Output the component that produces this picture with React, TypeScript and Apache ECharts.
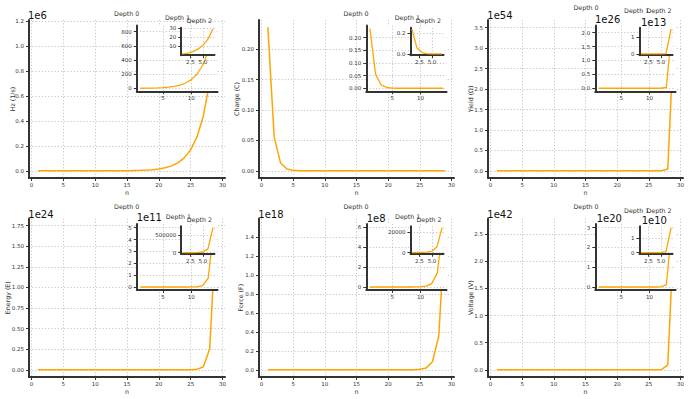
import React, { useEffect, useRef } from 'react';
import * as echarts from 'echarts';

// ---------------- data ----------------
const nValues = [1, 2, 3, 4, 5, 6, 7, 8, 9, 10, 11, 12, 13, 14, 15, 16, 17, 18, 19, 20, 21, 22, 23, 24, 25, 26, 27, 28, 29];

const hzValues = [1.618, 2.618, 4.236, 6.854, 11.09, 17.944, 29.034, 46.979, 76.013, 122.99, 199.0, 322.0, 521.0, 843.0, 1364, 2207, 3571, 5778, 9349, 15127, 24476, 39603, 64079, 103682, 167761, 271443, 439204, 710647, 1149851];

const chargeValues = [0.236068, 0.0557281, 0.0131556, 0.00310562, 0.000733137, 0.00017307, 4.0856e-5, 9.645e-6, 2.277e-6, 5.375e-7, 1.2689e-7, 2.9955e-8, 7.0714e-9, 1.6693e-9, 3.9407e-10, 9.3027e-11, 2.1961e-11, 5.1843e-12, 1.2238e-12, 2.8891e-13, 6.8202e-14, 1.61e-14, 3.8008e-15, 8.9724e-16, 2.1181e-16, 5.0e-17, 1.1804e-17, 2.7865e-18, 6.578e-19];

const yieldValues = [76.013, 5778.0, 439204, 3.3385e7, 2.53771e9, 1.92899e11, 1.46629e13, 1.11457e15, 8.4722e16, 6.43998e18, 4.89523e20, 3.72102e22, 2.82847e24, 2.15001e26, 1.63429e28, 1.24228e30, 9.44296e31, 7.1779e33, 5.45615e35, 4.14739e37, 3.15256e39, 2.39636e41, 1.82155e43, 1.38462e45, 1.05249e47, 8.00031e48, 6.08129e50, 4.62258e52, 3.51377e54];

const energyValues = [6.8541, 46.979, 321.997, 2207.0, 15127, 103682, 710647, 4870847, 33385282, 228826127, 1568397607, 10749957122, 7.36813e10, 5.0502e11, 3.46146e12, 2.37253e13, 1.62616e14, 1.11458e15, 7.63943e15, 5.23614e16, 3.5889e17, 2.45987e18, 1.68602e19, 1.15561e20, 7.92069e20, 5.42892e21, 3.72104e22, 2.55043e23, 1.74809e24];

const forceValues = [4.23607, 17.9443, 76.0132, 321.997, 1364.0, 5778.0, 24476, 103682, 439204, 1860498, 7881196, 33385282, 141422324, 599074578, 2537720636, 1.074996e10, 4.553755e10, 1.929e11, 8.17138e11, 3.46145e12, 1.46629e13, 6.21131e13, 2.63115e14, 1.11458e15, 4.72144e15, 2.00003e16, 8.4722e16, 3.5889e17, 1.52028e18];

const voltageValues = [29.0344, 842.999, 24476, 710647, 20633239, 599074578, 1.73938e10, 5.0502e11, 1.46629e13, 4.25729e14, 1.23608e16, 3.5889e17, 1.04202e19, 3.02545e20, 8.78423e21, 2.55045e23, 7.40506e24, 2.15001e26, 6.24243e27, 1.81245e29, 5.26235e30, 1.5279e32, 4.43617e33, 1.28802e35, 3.7397e36, 1.0858e38, 3.15256e39, 9.15328e40, 2.65761e42];

// points shown at each depth (depth 0, 1, 2)
const depthCounts = [29, 14, 7];

// x tick labels per depth
const mainXTicks = [0, 5, 10, 15, 20, 25, 30];
const depth1XTicks = [5, 10];
const depth2XTicks = [2.5, 5.0];

// y tick labels (in units of the offset shown above the axis)
const hzMainYTicks = [0, 0.2, 0.4, 0.6, 0.8, 1.0, 1.2];
const hzDepth1YTicks = [0, 200, 400, 600, 800];
const hzDepth2YTicks = [10, 20, 30];
const chargeMainYTicks = [0, 0.05, 0.1, 0.15, 0.2];
const chargeDepth1YTicks = [0, 0.05, 0.1, 0.15, 0.2];
const chargeDepth2YTicks = [0, 0.2];
const yieldMainYTicks = [0, 0.5, 1, 1.5, 2, 2.5, 3, 3.5];
const yieldDepth1YTicks = [0, 0.5, 1, 1.5, 2];
const yieldDepth2YTicks = [0, 1];
const energyMainYTicks = [0, 0.25, 0.5, 0.75, 1, 1.25, 1.5, 1.75];
const energyDepth1YTicks = [0, 1, 2, 3, 4, 5];
const energyDepth2YTicks = [0, 500000];
const forceMainYTicks = [0, 0.2, 0.4, 0.6, 0.8, 1.0, 1.2, 1.4];
const forceDepth1YTicks = [0, 2, 4, 6];
const forceDepth2YTicks = [0, 20000];
const voltageMainYTicks = [0, 0.5, 1, 1.5, 2, 2.5];
const voltageDepth1YTicks = [0, 1, 2, 3];
const voltageDepth2YTicks = [0, 1];

const depthTitles = ['Depth 0', 'Depth 1', 'Depth 2'];

const panels = [
  { yName: 'Hz (1/s)', values: hzValues, ticks: [hzMainYTicks, hzDepth1YTicks, hzDepth2YTicks], exps: [6, 0, 0], dec: [1, 0, 0] },
  { yName: 'Charge (C)', values: chargeValues, ticks: [chargeMainYTicks, chargeDepth1YTicks, chargeDepth2YTicks], exps: [0, 0, 0], dec: [2, 2, 1] },
  { yName: 'Yield (Ω)', values: yieldValues, ticks: [yieldMainYTicks, yieldDepth1YTicks, yieldDepth2YTicks], exps: [54, 26, 13], dec: [1, 1, 0] },
  { yName: 'Energy (E)', values: energyValues, ticks: [energyMainYTicks, energyDepth1YTicks, energyDepth2YTicks], exps: [24, 11, 0], dec: [2, 0, 0] },
  { yName: 'Force (F)', values: forceValues, ticks: [forceMainYTicks, forceDepth1YTicks, forceDepth2YTicks], exps: [18, 8, 0], dec: [1, 0, 0] },
  { yName: 'Voltage (V)', values: voltageValues, ticks: [voltageMainYTicks, voltageDepth1YTicks, voltageDepth2YTicks], exps: [42, 20, 10], dec: [1, 0, 0] },
];

// ---------------- layout ----------------
const layouts = [
  { box: [29, 20, 225, 178], titles: [[126.7, 13.3], [177.5, 17.3], [199.3, 20]], offsets: [[28, 15], null, null], yLabel: [12.3, 99], xLabelY: 192.7 },
  { box: [259, 20, 454, 178], titles: [[356, 13.3], [407.3, 17.3], [428.3, 20]], offsets: [null, null, null], yLabel: [236.7, 99], xLabelY: 192.7 },
  { box: [488, 20, 683, 178], titles: [[586, 7.3], [636.7, 10], [659, 10]], offsets: [[487.3, 15], [595, 19.3], [641, 22.3]], yLabel: [470.7, 99], xLabelY: 192.7 },
  { box: [29, 218.5, 225, 377], titles: [[126.7, 206.7], [178.3, 216.7], [199.3, 219.3]], offsets: [[28.3, 214], [136.7, 217.3], null], yLabel: [7.3, 297.7], xLabelY: 391.7 },
  { box: [259, 218.5, 454, 377], titles: [[356, 206.7], [407.7, 216.7], [429, 219.3]], offsets: [[258.3, 214], [366.7, 218.3], null], yLabel: [240.7, 297.7], xLabelY: 391.7 },
  { box: [488, 218.5, 683, 377], titles: [[586, 206.7], [636.7, 210], [659, 210]], offsets: [[487.3, 214], [596.7, 218.3], [641.7, 220.7]], yLabel: [470, 297.7], xLabelY: 391.7 },
];

const INSET = { x: 0.55, y: 0.035, w: 0.412, h: 0.416 };
const FONT = 'DejaVu Sans';
const INK = '#333333';
const ORANGE = '#FFA500';
const GRID_COLOR = '#b8b8b8';

function padded(vals: number[]): [number, number] {
  const mn = Math.min(...vals);
  const mx = Math.max(...vals);
  const p = (mx - mn) * 0.05;
  return [mn - p, mx + p];
}

function buildOption() {
  const grid: any[] = [];
  const xAxis: any[] = [];
  const yAxis: any[] = [];
  const series: any[] = [];
  const graphic: any[] = [];

  panels.forEach((panel, pi) => {
    const lay = layouts[pi];
    let box = { left: lay.box[0], top: lay.box[1], width: lay.box[2] - lay.box[0], height: lay.box[3] - lay.box[1] };
    for (let d = 0; d < 3; d++) {
      const cnt = depthCounts[d];
      const xs = nValues.slice(0, cnt);
      const ys = panel.values.slice(0, cnt);
      const [xmin, xmax] = padded(xs);
      const [ymin, ymax] = padded(ys);
      const idx = grid.length;
      const zb = d * 10;
      const scale = Math.pow(10, panel.exps[d]);
      const yt = panel.ticks[d].map((t) => t * scale);
      const xt = d === 0 ? mainXTicks : d === 1 ? depth1XTicks : depth2XTicks;
      const xDec = d === 2 ? 1 : 0;
      const yDec = panel.dec[d];
      grid.push({
        left: box.left, top: box.top, width: box.width, height: box.height,
        show: d > 0, backgroundColor: '#ffffff', borderWidth: 0, z: zb,
      });
      const axisCommon = {
        z: zb + 1,
        axisLine: { show: true, onZero: false, lineStyle: { color: INK, width: 2 } },
        splitLine: { show: true, lineStyle: { color: GRID_COLOR, width: 0.8, type: [1.2, 2] } },
      };
      xAxis.push({
        ...axisCommon,
        type: 'value', gridIndex: idx, min: xmin, max: xmax,
        axisTick: { show: true, customValues: xt, length: 3, lineStyle: { color: INK, width: 1 } },
        axisLabel: {
          customValues: xt, margin: 4, fontSize: 5.5, fontFamily: FONT, color: INK,
          formatter: (v: number) => v.toFixed(xDec),
        },
      });
      yAxis.push({
        ...axisCommon,
        type: 'value', gridIndex: idx, min: ymin, max: ymax,
        axisTick: { show: true, customValues: yt, length: 3, lineStyle: { color: INK, width: 1 } },
        axisLabel: {
          customValues: yt, margin: 5, fontSize: 5.5, fontFamily: FONT, color: INK,
          formatter: (v: number) => (v / scale).toFixed(yDec),
        },
      });
      series.push({
        type: 'line', xAxisIndex: idx, yAxisIndex: idx, z: zb + 2,
        data: xs.map((x, i) => [x, ys[i]]),
        showSymbol: false, silent: true,
        lineStyle: { color: ORANGE, width: d === 0 ? 1.5 : 1.3 },
      });
      // titles
      const tp = lay.titles[d];
      graphic.push({
        type: 'text', x: tp[0], y: tp[1], z: 100,
        style: { text: depthTitles[d], fontSize: 6.3, fontFamily: FONT, fill: INK, textAlign: 'center', textVerticalAlign: 'middle' },
      });
      const op = lay.offsets[d];
      if (op) {
        graphic.push({
          type: 'text', x: op[0], y: op[1], z: 100,
          style: { text: '1e' + panel.exps[d], fontSize: 10, fontFamily: FONT, fill: '#111', textAlign: 'left', textVerticalAlign: 'middle' },
        });
      }
      box = {
        left: box.left + INSET.x * box.width,
        top: box.top + INSET.y * box.height,
        width: INSET.w * box.width,
        height: INSET.h * box.height,
      };
    }
    // axis names
    graphic.push({
      type: 'text', x: lay.yLabel[0], y: lay.yLabel[1], rotation: Math.PI / 2, z: 100,
      style: { text: panel.yName, fontSize: 6.3, fontFamily: FONT, fill: INK, textAlign: 'center', textVerticalAlign: 'middle' },
    });
    graphic.push({
      type: 'text', x: (lay.box[0] + lay.box[2]) / 2, y: lay.xLabelY, z: 100,
      style: { text: 'n', fontSize: 6.3, fontFamily: FONT, fill: INK, textAlign: 'center', textVerticalAlign: 'middle' },
    });
  });

  return {
    animation: false,
    backgroundColor: '#ffffff',
    textStyle: { fontFamily: FONT },
    grid, xAxis, yAxis, series, graphic,
  };
}

export default function App() {
  const ref = useRef<HTMLDivElement>(null);
  useEffect(() => {
    if (!ref.current) return;
    const chart = echarts.init(ref.current, null, { renderer: 'svg' });
    chart.setOption(buildOption());
    return () => chart.dispose();
  }, []);
  return <div ref={ref} style={{ position: 'absolute', left: 0, top: 0, width: 690, height: 399, background: '#fff' }} />;
}
